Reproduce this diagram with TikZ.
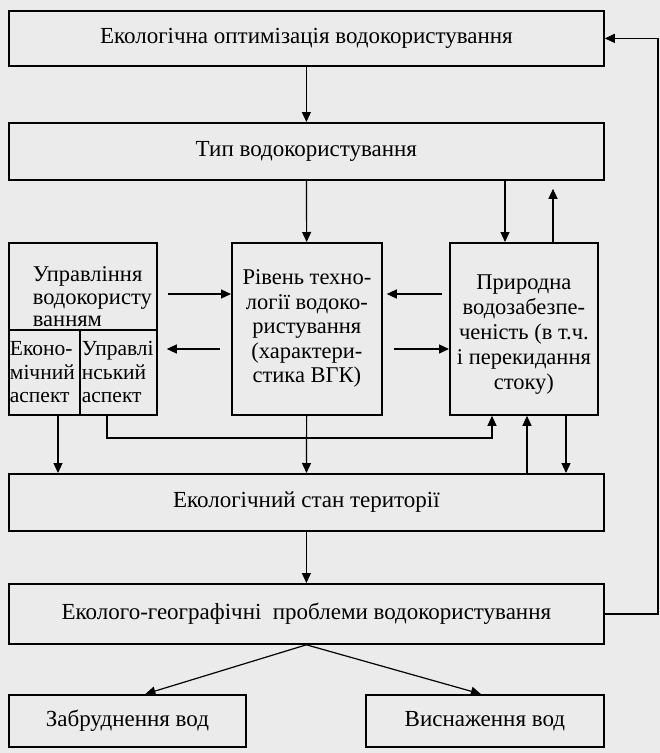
\documentclass[tikz,border=0pt]{standalone}
\usepackage{fontspec}
\setmainfont{Liberation Serif}
\usepackage{xcolor}
\definecolor{Paper Grey}{HTML}{EBEBEB}
\colorlet{cBack}{Paper Grey}
\usetikzlibrary{arrows.meta, positioning}
\tikzset{
	x=1pt, y=-1pt,
	line width=1.2pt,
	>={Triangle[width=9pt,length=10pt]},
	font=\fontsize{23}{26}\selectfont,
	box/.style={
		draw,
		rectangle,
		line width=1.8pt,
		inner sep=0pt,
		anchor=north west,
		minimum width=595pt,
		minimum height=56pt
	},
	tallbox/.style={
		box,
		minimum height=172pt,
		font=\fontsize{22.5}{24.5}\selectfont
	},
	cell/.style={
		box,
		minimum height=85pt,
		inner xsep=1pt,
		font=\fontsize{21.5}{23.5}\selectfont
	},
	edge/.style={
		->,
		line width=1.2pt
	}
}
\begin{document}
\begin{tikzpicture}
% ---
% frame
% ---
\fill[cBack] (0,0) rectangle (660,753);
\useasboundingbox (0,0) rectangle (660,753);

% ---
% boxes
% ---
\node[box, minimum height=55pt] (opt) at (8,10) {Екологічна оптимізація водокористування};
\node[box, minimum height=57pt] (typ) at (8,122) {Тип водокористування};

\node[cell, minimum width=148pt, minimum height=87pt, align=left, text width=100pt, inner xsep=24pt, font=\fontsize{22.5}{22.5}\selectfont] (upr) at (8,242) {\rule{0pt}{36pt}Управління\\водокористу\\ванням};
\node[cell, minimum width=71pt, align=left, text width=69pt] (eko) at (8,329) {Еконо-\\мічний\\аспект};
\node[cell, minimum width=77pt, align=left, text width=73pt, inner xsep=2pt] (upl) at (79,329) {Управлі\\нський\\аспект};
\node[tallbox, minimum width=150pt, align=center] (riv) at (231,242) {Рівень техно-\\логії водоко-\\ристування\\(характери-\\стика ВГК)};
\node[tallbox, minimum width=148pt, align=center, font=\fontsize{22.5}{25}\selectfont] (pryr) at (449,242) {\rule{0pt}{25.5pt}Природна\\водозабезпе-\\ченість (в т.ч.\\і перекидання\\стоку)};

\node[box, minimum height=57pt] (stan) at (8,473) {Екологічний стан території};
\node[box, minimum height=60pt] (geo) at (8,583) {Еколого-географічні\ \ проблеми водокористування};

\node[box, minimum width=237pt, minimum height=52pt] (zab) at (8,694) {Забруднення вод};
\node[box, minimum width=238pt, minimum height=52pt] (vys) at (365,694) {Виснаження вод};

% ---
% guides for the connectors
% ---
\coordinate (tp-in) at (505,0);
\coordinate (tp-out) at (553,0);
\coordinate (ek-x) at (58,0);
\coordinate (ul-x) at (107,0);
\coordinate (jn-x) at (492,0);
\coordinate (st-up) at (527,0);
\coordinate (st-dn) at (566,0);
\coordinate (fb-x) at (658,0);
\coordinate (row-a) at (0,294);
\coordinate (row-b) at (0,349);
\coordinate (row-c) at (0,438);

% ---
% connectors
% ---
\draw[edge] (opt) -- (typ);
\draw[edge] (typ) -- (riv);
\draw[edge] (typ.south -| tp-in) -- (pryr.north -| tp-in);
\draw[edge, shorten >=8pt] (pryr.north -| tp-out) -- (typ.south -| tp-out);

\draw[edge, shorten <=10pt] (upr.east |- row-a) -- (riv.west |- row-a);
\draw[edge, shorten <=11pt, shorten >=9pt] (riv.west |- row-b) -- (upl.east |- row-b);
\draw[edge, shorten <=7pt, shorten >=4pt] (pryr.west |- row-a) -- (riv.east |- row-a);
\draw[edge, shorten <=11pt] (riv.east |- row-b) -- (pryr.west |- row-b);

\draw[edge] (eko.south -| ek-x) -- (stan.north -| ek-x);
\draw[edge] (upl.south -| ul-x) -- (ul-x |- row-c) -| (pryr.south -| jn-x);
\draw[edge] (riv) -- (stan);
\draw[edge] (stan.north -| st-up) -- (pryr.south -| st-up);
\draw[edge] (pryr.south -| st-dn) -- (stan.north -| st-dn);

\draw[edge] (stan) -- (geo);
\draw[edge] (geo.south) -- ([xshift=18pt]zab.north);
\draw[edge] (geo.south) -- ([xshift=-4pt]vys.north);

\draw[edge] (geo.east) -- (geo.east -| fb-x) -- (opt.east -| fb-x) -- (opt.east);
\end{tikzpicture}
\end{document}
